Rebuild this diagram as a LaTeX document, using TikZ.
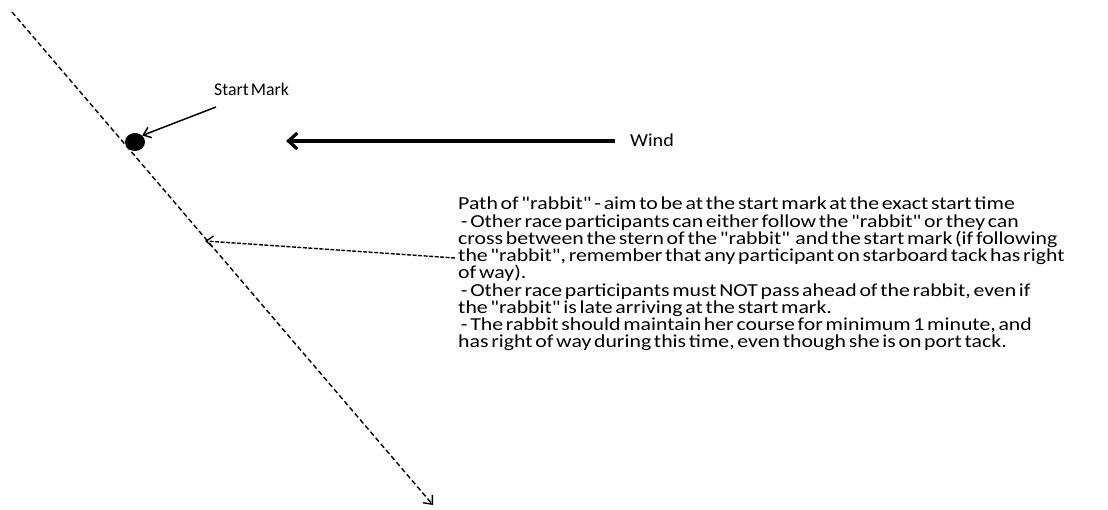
\documentclass[tikz,border=0pt]{standalone}
\usepackage{fontspec}
\setmainfont{Carlito}
\newfontfamily\descfont[WordSpace=0.55, FakeStretch=1.19]{Carlito}
\newfontfamily\markfont[WordSpace=0.5, FakeStretch=1.0]{Carlito}
\newfontfamily\windfont[FakeStretch=1.1]{Carlito}
\usetikzlibrary{arrows.meta,shapes.geometric}
\begin{document}
\begin{tikzpicture}[x=1pt,y=-1pt,
  lbl/.style={inner sep=0pt},
  dashline/.style={line width=1.4pt, dash pattern=on 5pt off 3pt},
  thinarrow/.style={line width=1.5pt, -{Straight Barb[length=7pt,width=11pt]}},
]
\useasboundingbox (0,0) rectangle (1108,510);
% main dashed path
\coordinate (pstart) at (12,12);
\coordinate (pend) at (433,505);
\draw[dashline, -{Straight Barb[length=7pt,width=12pt]}] (pstart) -- (pend);
% start mark
\node[fill=black, ellipse, minimum width=20pt, minimum height=18pt, inner sep=0pt] (dot) at (135,142) {};
\node[lbl, anchor=base west, font=\markfont\fontsize{17.8}{17.25}\selectfont] (startlbl) at (214,96) {Start Mark};
\coordinate (smfrom) at (216,107);
\draw[thinarrow] (smfrom) -- (dot.north east);
% wind
\node[lbl, anchor=base west, font=\windfont\fontsize{18.3}{17.25}\selectfont] (windlbl) at (630,147) {Wind};
\coordinate (wfrom) at (615,141);
\coordinate (wto) at (286,141);
\draw[line width=3.2pt, -{Straight Barb[length=9pt,width=16pt]}] (wfrom) -- (wto);
% description
\node[lbl, anchor=north west, align=left, font=\descfont\fontsize{18.3}{17.25}\selectfont] (desc) at (458,197) {%
Path of "rabbit" - aim to be at the start mark at the exact start time\\
\ - Other race participants can either follow the "rabbit" or they can\\
cross between the stern of the "rabbit"\ \ and the start mark (if following\\
the "rabbit", remember that any participant on starboard tack has right\\
of way).\\
\ - Other race participants must NOT pass ahead of the rabbit, even if\\
the "rabbit" is late arriving at the start mark.\\
\ - The rabbit should maintain her course for minimum 1 minute, and\\
has right of way during this time, even though she is on port tack.};
\coordinate (dfrom) at (455,258);
\coordinate (dto) at (205,241);
\draw[line width=1.4pt, dash pattern=on 4pt off 1.5pt, -{Straight Barb[length=7pt,width=11pt]}] (dfrom) -- (dto);
\end{tikzpicture}
\end{document}
